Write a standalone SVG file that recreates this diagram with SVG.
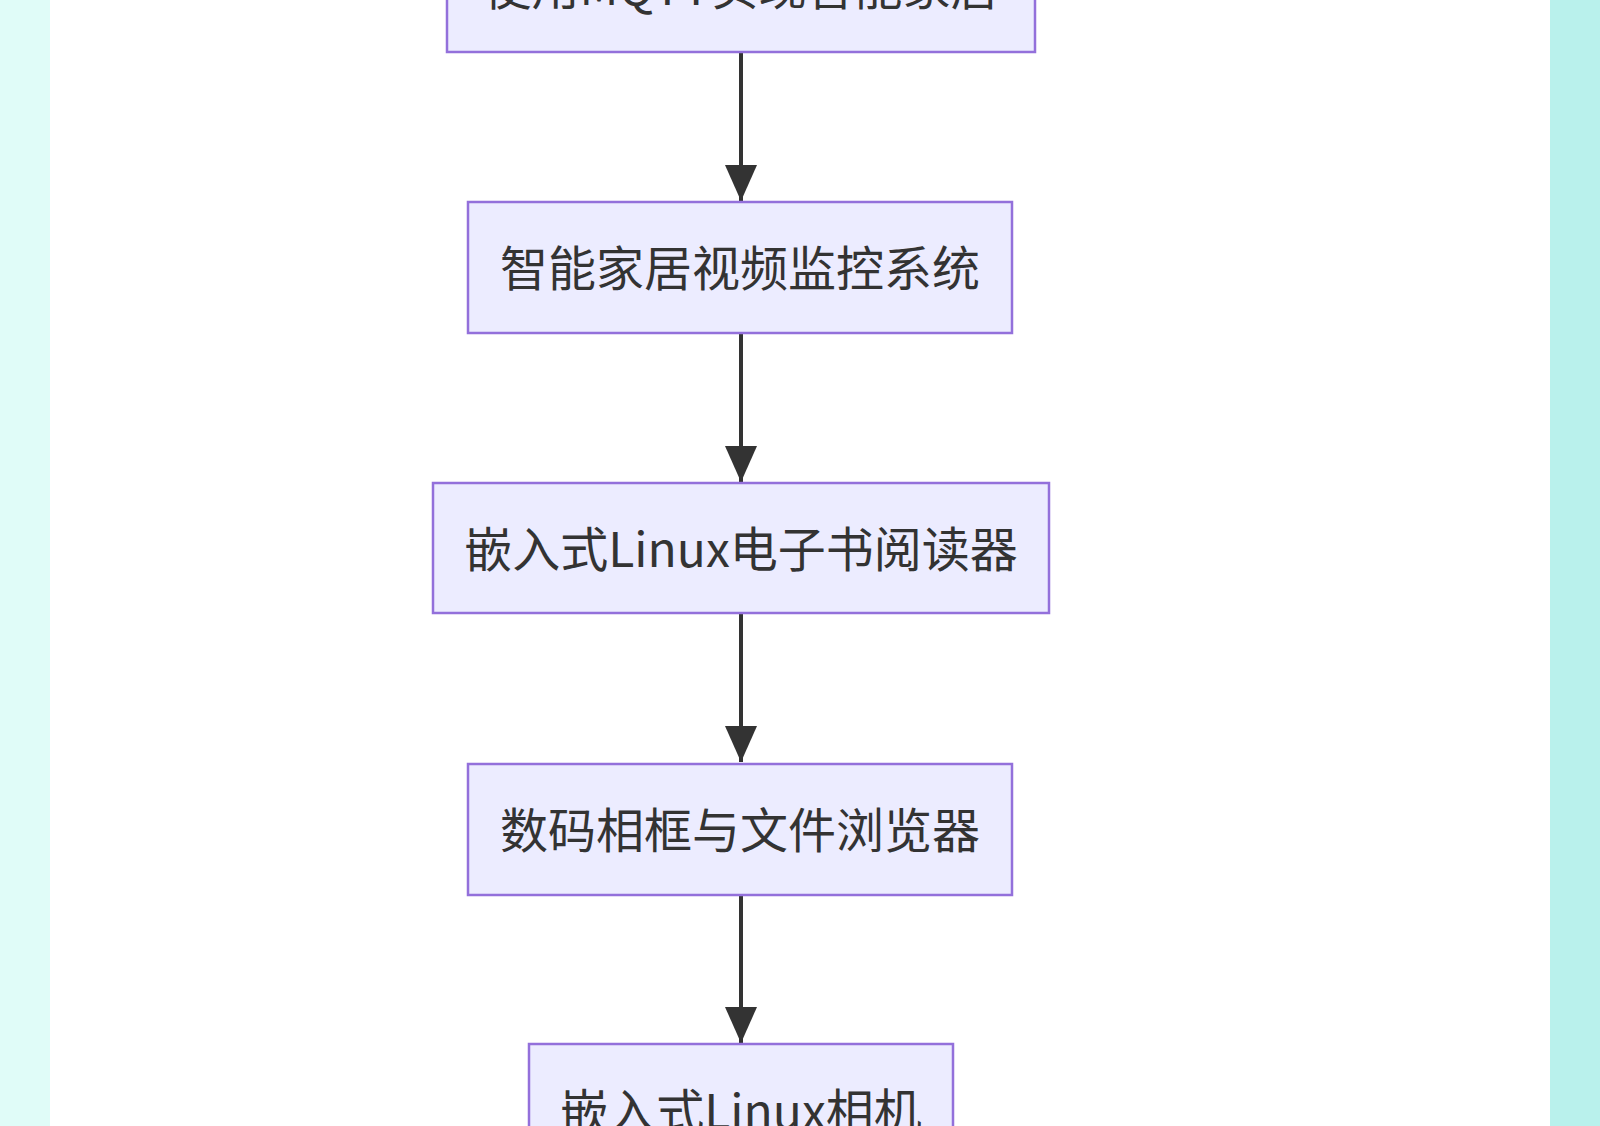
<svg xmlns="http://www.w3.org/2000/svg" width="1600" height="1126" viewBox="0 0 1600 1126">
<style>
.node rect{fill:#ECECFF;stroke:#9370DB;stroke-width:2.5}
.node text{font-family:"Microsoft YaHei","Noto Sans CJK SC",sans-serif;font-size:48px;fill:#333333;text-anchor:middle;dominant-baseline:central}
.edge{stroke:#333333;stroke-width:4;fill:none}
</style>
<defs>
<marker id="arrow" markerUnits="userSpaceOnUse" viewBox="0 0 36 32" refX="36" refY="16" markerWidth="36" markerHeight="32" orient="auto">
<path d="M0,0 L36,16 L0,32 Z" fill="#333333"/>
</marker>
</defs>
<rect x="0" y="0" width="1600" height="1126" fill="#ffffff"/>
<rect x="0" y="0" width="50" height="1126" fill="#e0fcf8"/>
<rect x="1550" y="0" width="50" height="1126" fill="#b9f1ec"/>
<g id="connectors">
<line class="edge" x1="741" y1="53" x2="741" y2="201" marker-end="url(#arrow)"/>
<line class="edge" x1="741" y1="334" x2="741" y2="482" marker-end="url(#arrow)"/>
<line class="edge" x1="741" y1="614" x2="741" y2="762" marker-end="url(#arrow)"/>
<line class="edge" x1="741" y1="896" x2="741" y2="1043" marker-end="url(#arrow)"/>
</g>
<g id="node1" class="node">
<rect x="447" y="-79" width="588" height="131"/>
<text x="741" y="-16">使用MQTT实现智能家居</text>
</g>
<g id="node2" class="node">
<rect x="468" y="202" width="544" height="131"/>
<text x="740" y="265">智能家居视频监控系统</text>
</g>
<g id="node3" class="node">
<rect x="433" y="483" width="616" height="130"/>
<text x="741" y="546">嵌入式Linux电子书阅读器</text>
</g>
<g id="node4" class="node">
<rect x="468" y="764" width="544" height="131"/>
<text x="740" y="827">数码相框与文件浏览器</text>
</g>
<g id="node5" class="node">
<rect x="529" y="1044" width="424" height="131"/>
<text x="741" y="1108">嵌入式Linux相机</text>
</g>
</svg>
